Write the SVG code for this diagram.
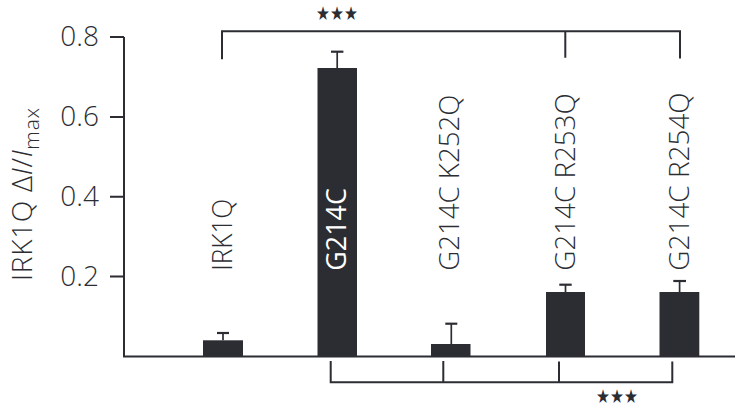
<svg xmlns="http://www.w3.org/2000/svg" width="735" height="408" viewBox="0 0 735 408">
<style>
.ln{stroke:#2b2d33;stroke-width:2;fill:none;stroke-linecap:butt}
.eb{stroke:#2b2d33;stroke-width:1.7;fill:none}
.cap{stroke:#2b2d33;stroke-width:2.2;fill:none}
.bar{fill:#2b2d33}
.t{font-family:"Open Sans","Liberation Sans",Arial,sans-serif;font-weight:300;font-size:27px;fill:#2b2d33}
.tk{font-size:28px}
.w{fill:#ffffff;font-weight:400}
.st{font-family:"DejaVu Sans",sans-serif;font-size:19px;fill:#2b2d33}
</style>
<rect width="735" height="408" fill="#ffffff"/>
<g id="axes">
<path class="ln" d="M124 37V356.5M123 356.5H735M110 37H124M110 117H124M110 196.7H124M110 276.6H124"/>
<text class="t tk" x="99" y="46.3" text-anchor="end">0.8</text>
<text class="t tk" x="99" y="126.3" text-anchor="end">0.6</text>
<text class="t tk" x="99" y="206" text-anchor="end">0.4</text>
<text class="t tk" x="99" y="286" text-anchor="end">0.2</text>
<text class="t tk" transform="translate(32,281) rotate(-90)" textLength="173" lengthAdjust="spacing">IRK1Q Δ<tspan font-style="italic">I</tspan>/<tspan font-style="italic">I</tspan><tspan font-size="21" dy="7">max</tspan></text>
</g>
<g id="irk1q">
<rect class="bar" x="203" y="340.3" width="40" height="16.2"/>
<path class="eb" d="M223 340.3V333"/>
<path class="cap" d="M217 333H229"/>
<text class="t" transform="translate(231.5,270.7) rotate(-90)" textLength="72" lengthAdjust="spacingAndGlyphs">IRK1Q</text>
</g>
<g id="g214c">
<rect class="bar" x="317.5" y="68" width="39.5" height="288.5"/>
<path class="eb" d="M337.2 68V51.7"/>
<path class="cap" d="M331 51.7H343.4"/>
<text class="t w" transform="translate(345.5,270.7) rotate(-90)" textLength="82.5" lengthAdjust="spacingAndGlyphs">G214C</text>
</g>
<g id="g214c-k252q">
<rect class="bar" x="431" y="344" width="39.5" height="12.5"/>
<path class="eb" d="M451.3 344V323.7"/>
<path class="cap" d="M445.3 323.7H457.3"/>
<text class="t" transform="translate(458.5,270.7) rotate(-90)" textLength="176" lengthAdjust="spacingAndGlyphs">G214C K252Q</text>
</g>
<g id="g214c-r253q">
<rect class="bar" x="546" y="292" width="39" height="64.5"/>
<path class="eb" d="M565.5 292V284.7"/>
<path class="cap" d="M559.3 284.7H571.7"/>
<text class="t" transform="translate(575,270.7) rotate(-90)" textLength="177.4" lengthAdjust="spacingAndGlyphs">G214C R253Q</text>
</g>
<g id="g214c-r254q">
<rect class="bar" x="659.5" y="292" width="39.8" height="64.5"/>
<path class="eb" d="M679.6 292V281"/>
<path class="cap" d="M673.3 281H686"/>
<text class="t" transform="translate(688.5,270.7) rotate(-90)" textLength="178.4" lengthAdjust="spacingAndGlyphs">G214C R254Q</text>
</g>
<g id="connectors">
<path class="ln" d="M222 59.3V31.3H680V58.5M565.3 31.3V57.7"/>
<text class="st" x="337" y="20" text-anchor="middle" textLength="42" lengthAdjust="spacingAndGlyphs">★★★</text>
<path class="ln" d="M330.7 361V382.3H672.3V361.5M443.3 361V382.3M559 361.5V382.3"/>
<text class="st" x="617" y="403" text-anchor="middle" textLength="42" lengthAdjust="spacingAndGlyphs">★★★</text>
</g>
</svg>
